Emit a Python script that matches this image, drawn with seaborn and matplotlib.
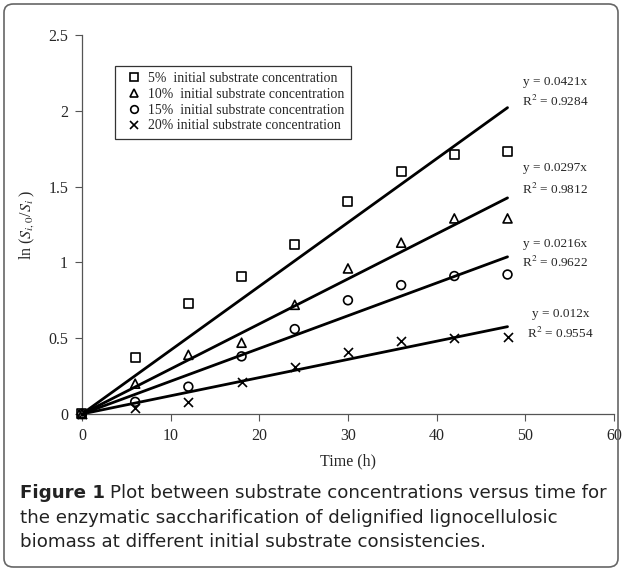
import numpy as np
import pandas as pd
import seaborn as sns
import matplotlib
matplotlib.use("Agg")
import matplotlib.pyplot as plt
from matplotlib.lines import Line2D
from matplotlib.patches import FancyBboxPatch

# ---- data ----
time_h = [0, 6, 12, 18, 24, 30, 36, 42, 48]
conc_labels = ["5%  initial substrate concentration",
               "10%  initial substrate concentration",
               "15%  initial substrate concentration",
               "20% initial substrate concentration"]
s5 = [0, 0.37, 0.73, 0.91, 1.12, 1.40, 1.60, 1.71, 1.73]
s10 = [0, 0.20, 0.39, 0.47, 0.72, 0.96, 1.13, 1.29, 1.29]
s15 = [0, 0.08, 0.18, 0.38, 0.56, 0.75, 0.85, 0.91, 0.92]
s20 = [0, 0.04, 0.08, 0.21, 0.31, 0.41, 0.48, 0.50, 0.51]
slopes = [0.0421, 0.0297, 0.0216, 0.012]
r2 = [0.9284, 0.9812, 0.9622, 0.9554]
eq_texts = ["y = 0.0421x", "y = 0.0297x", "y = 0.0216x", "y = 0.012x"]
r2_texts = ["R$^2$ = 0.9284", "R$^2$ = 0.9812", "R$^2$ = 0.9622", "R$^2$ = 0.9554"]
x_ticks = [0, 10, 20, 30, 40, 50, 60]
y_ticks = [0, 0.5, 1, 1.5, 2, 2.5]
y_tick_labels = ["0", "0.5", "1", "1.5", "2", "2.5"]
caption_bold = "Figure 1"
caption_lines = ["Plot between substrate concentrations versus time for",
                 "the enzymatic saccharification of delignified lignocellulosic",
                 "biomass at different initial substrate consistencies."]

sns.set_theme(style="white")
plt.rcParams["font.family"] = ["Liberation Serif", "DejaVu Serif"]
plt.rcParams["mathtext.fontset"] = "stix"

fig = plt.figure(figsize=(6.22, 5.71), dpi=100)
ax = fig.add_axes([0.1318, 0.275, 0.987 - 0.1318, 0.9387 - 0.275])

series = [s5, s10, s15, s20]
markers = ["s", "^", "o", "x"]
sizes = [42, 42, 40, 42]

# fitted lines
fit_rows = []
for lab, m in zip(conc_labels, slopes):
    for xv in (0, 48):
        fit_rows.append({"time": xv, "val": m * xv, "series": lab})
fit_df = pd.DataFrame(fit_rows)
sns.lineplot(data=fit_df, x="time", y="val", units="series", estimator=None,
             color="black", lw=2.0, ax=ax, legend=False)

for lab, vals, mk, sz in zip(conc_labels, series, markers, sizes):
    df = pd.DataFrame({"time": time_h, "val": vals})
    if mk == "x":
        sns.scatterplot(data=df, x="time", y="val", marker="x", color="black",
                        s=sz, linewidth=1.2, ax=ax, legend=False, zorder=3)
    else:
        sns.scatterplot(data=df, x="time", y="val", marker=mk, facecolors="none",
                        edgecolor="black", s=sz, linewidth=1.2, ax=ax, legend=False, zorder=3)

ax.set_xlim(0, 60)
ax.set_ylim(0, 2.5)
ax.set_xticks(x_ticks)
ax.set_xticklabels([str(t) for t in x_ticks])
ax.set_yticks(y_ticks)
ax.set_yticklabels(y_tick_labels)
ax.tick_params(axis="both", which="major", direction="out", length=5, width=0.8,
               color="#555555", labelsize=11.5, pad=5, bottom=True, left=True)
for sp in ["top", "right"]:
    ax.spines[sp].set_visible(False)
for sp in ["left", "bottom"]:
    ax.spines[sp].set_color("#555555")
    ax.spines[sp].set_linewidth(0.9)
ax.set_xlabel("Time (h)", fontsize=11.5, labelpad=7)
ax.set_ylabel(r"ln ($S_{i,0}$/$S_i$ )", fontsize=11.5, labelpad=8)
for c in ax.collections:
    c.set_clip_on(False)

# equation annotations
eq_pos = [(53.4, 2.19, 2.06), (53.4, 1.62, 1.48), (53.4, 1.12, 1.00), (54.0, 0.66, 0.53)]
for (xp, ye, yr), et, rt in zip(eq_pos, eq_texts, r2_texts):
    ax.text(xp, ye, et, ha="center", va="center", fontsize=9.5)
    ax.text(xp, yr, rt, ha="center", va="center", fontsize=9.5)

# legend
handles = []
for lab, mk in zip(conc_labels, markers):
    if mk == "x":
        h = Line2D([], [], marker="x", color="black", linestyle="none", markersize=5.5,
                   markeredgewidth=1.2)
    else:
        h = Line2D([], [], marker=mk, markerfacecolor="none", markeredgecolor="black",
                   linestyle="none", markersize=5.5, markeredgewidth=1.2)
    handles.append(h)
leg = ax.legend(handles, conc_labels, loc="upper left",
                bbox_to_anchor=((115 - 82) / 532, (414 - 66) / 379),
                frameon=True, fancybox=False, shadow=False, fontsize=9.9,
                handletextpad=0.15, handlelength=1.8, labelspacing=0.2,
                borderpad=0.45, borderaxespad=0)
leg.get_frame().set_edgecolor("black")
leg.get_frame().set_linewidth(0.9)

# caption: auto-fit first line to the reference width
cap_font = ["DejaVu Sans"]
fig.canvas.draw()
renderer = fig.canvas.get_renderer()
target_w = 607 - 20
fs = 12.0
for _ in range(3):
    tb = fig.text(0, 0, caption_bold, fontsize=fs, fontweight="bold", family=cap_font)
    tr = fig.text(0, 0, caption_lines[0], fontsize=fs, family=cap_font)
    w = tb.get_window_extent(renderer).width + 5 + tr.get_window_extent(renderer).width
    tb.remove(); tr.remove()
    fs = fs * target_w / w

t1 = fig.text(20 / 622, 1 - 493 / 571, caption_bold, fontsize=fs, fontweight="bold",
              family=cap_font, va="center", ha="left", color="#222222")
bb = t1.get_window_extent(renderer=renderer)
x_next = (bb.x1 + 5) / fig.bbox.width
fig.text(x_next, 1 - 493 / 571, caption_lines[0],
         fontsize=fs, family=cap_font, va="center", ha="left", color="#222222")
fig.text(20 / 622, 1 - 518 / 571, caption_lines[1],
         fontsize=fs, family=cap_font, va="center", ha="left", color="#222222")
fig.text(20 / 622, 1 - 542 / 571, caption_lines[2],
         fontsize=fs, family=cap_font, va="center", ha="left", color="#222222")

border = FancyBboxPatch((4 / 622, 4 / 571), 614 / 622, 563 / 571,
                        boxstyle="round,pad=0,rounding_size=0.015",
                        transform=fig.transFigure, facecolor="none",
                        edgecolor="#666666", linewidth=1.2)
fig.patches.append(border)

fig.savefig("out.png", dpi=100)
